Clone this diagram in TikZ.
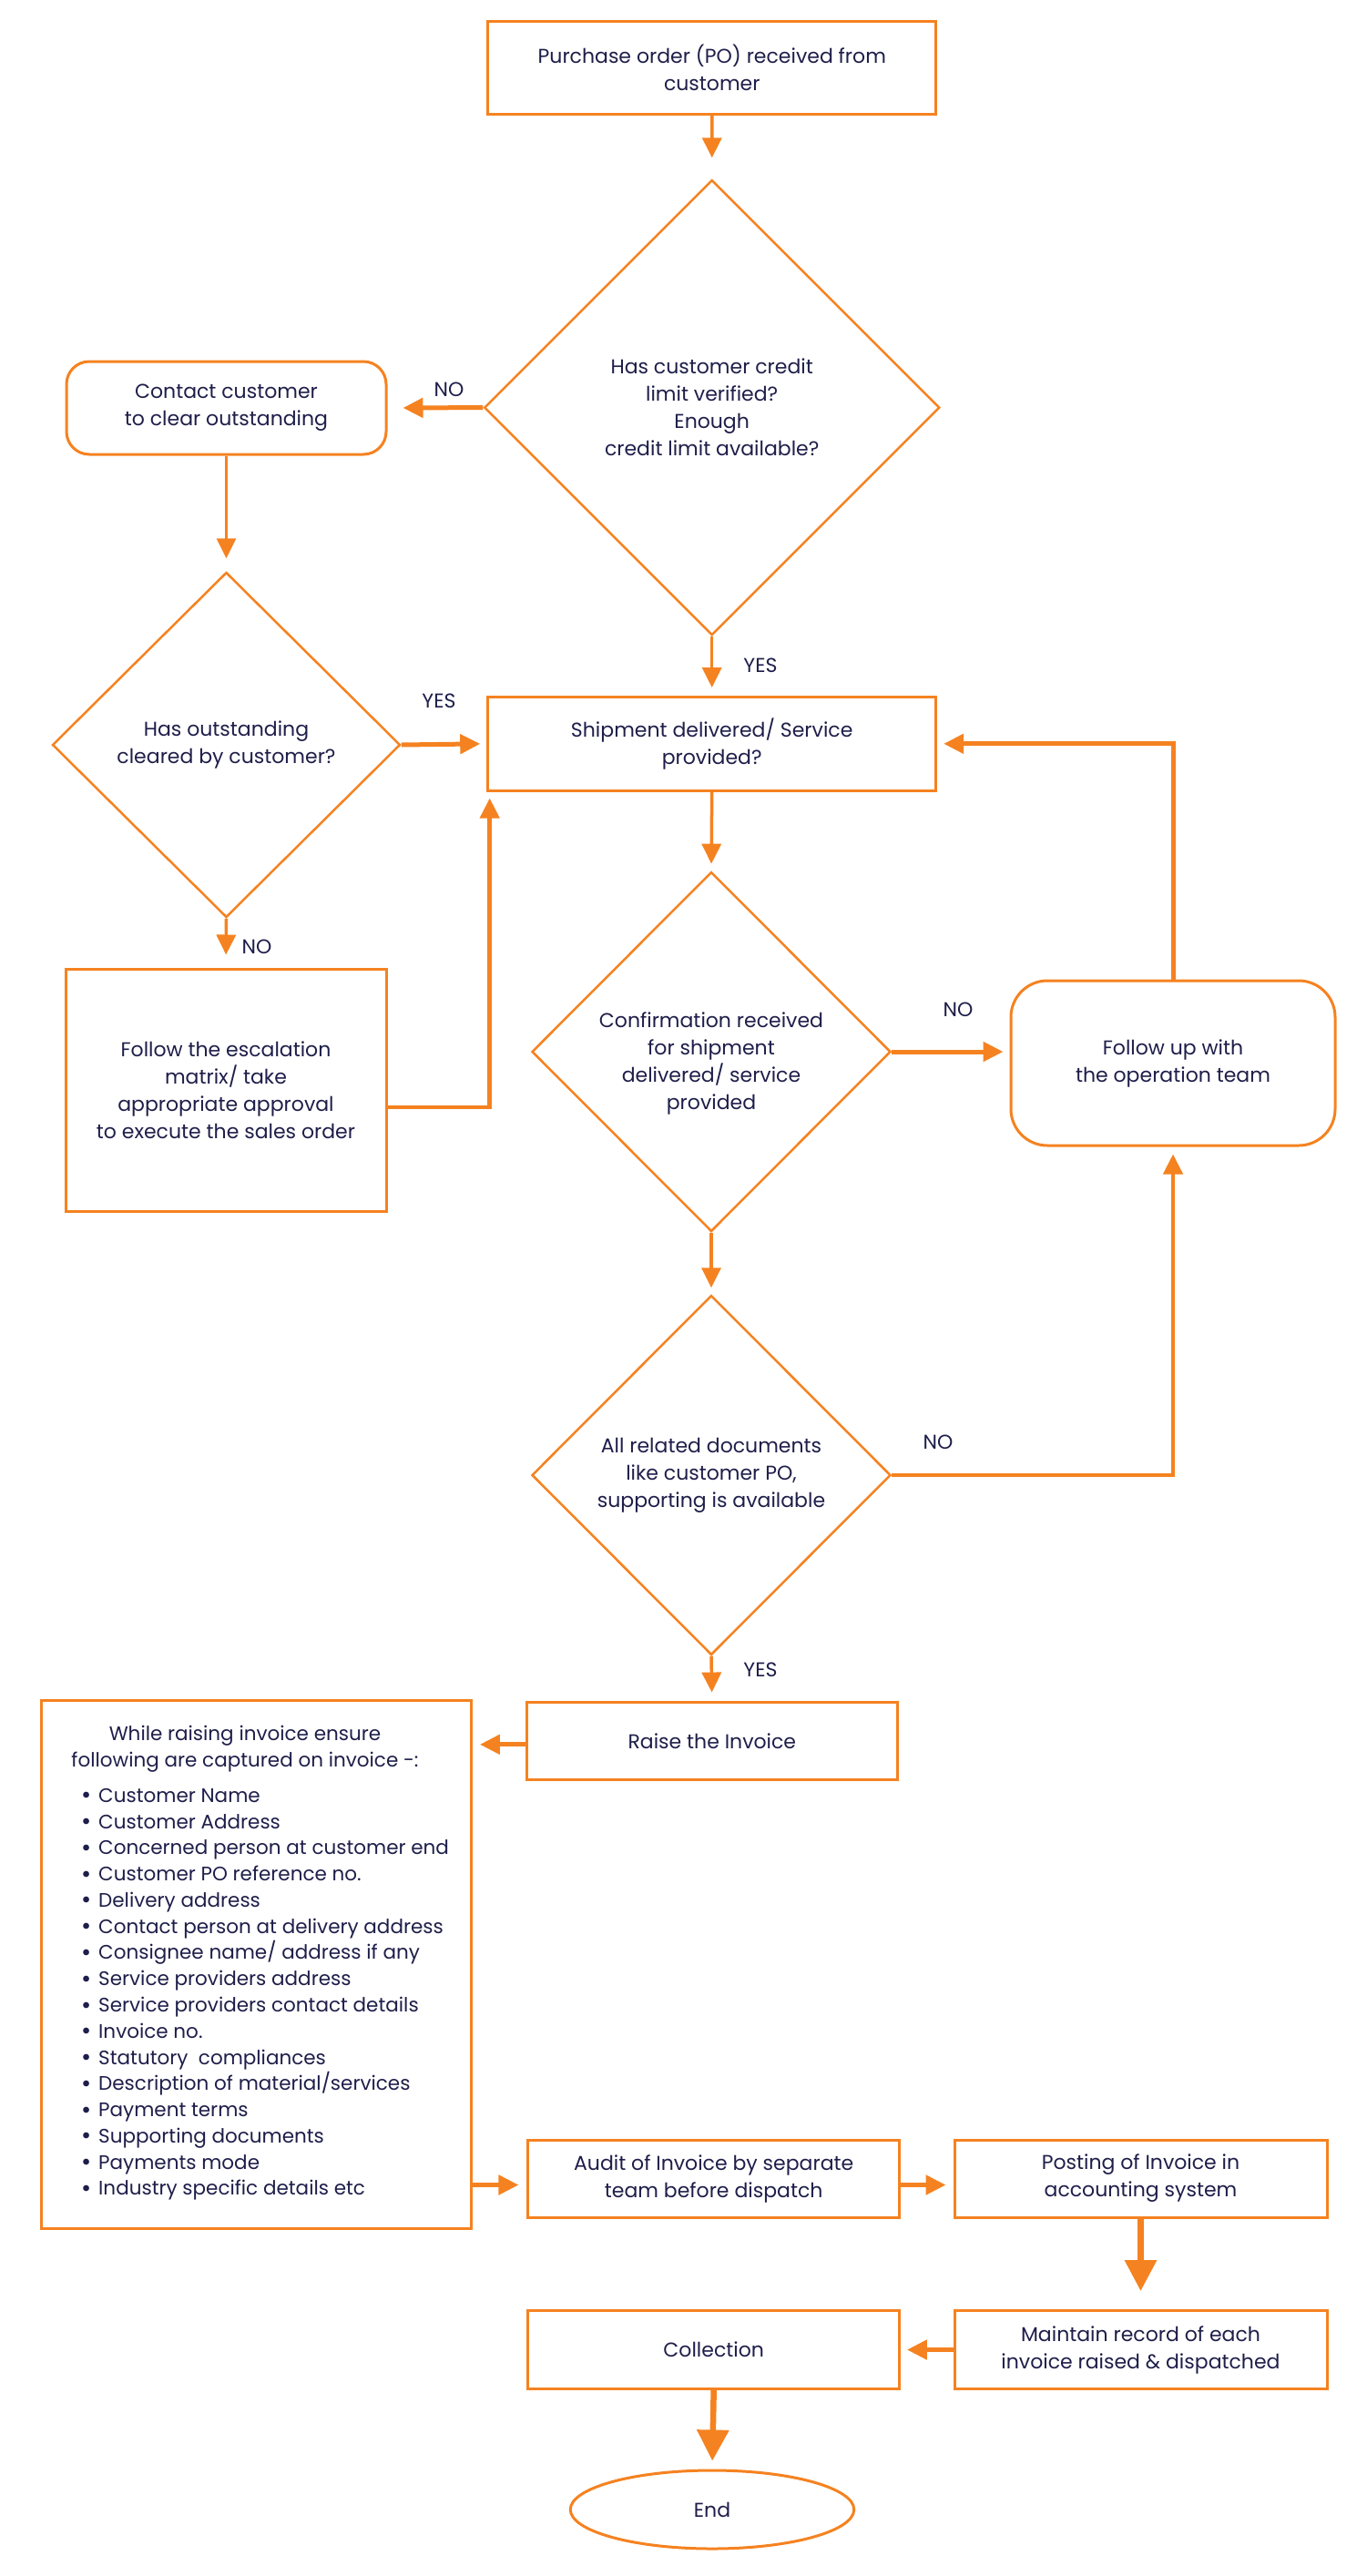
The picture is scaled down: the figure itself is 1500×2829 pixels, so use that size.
\documentclass[tikz,border=0pt]{standalone}
\usepackage{fontspec}
\setmainfont{Poppins}
\usetikzlibrary{shapes.geometric,arrows.meta,calc}
\definecolor{org}{HTML}{F58220}
\definecolor{ink}{HTML}{1E1E4A}
\newcommand{\bul}{\makebox[19pt][l]{\raisebox{-1.5pt}{\fontsize{27pt}{0pt}\selectfont •}}}
\begin{document}
\begin{tikzpicture}[x=1pt,y=-1pt,
  every node/.style={font=\fontsize{22pt}{30pt}\selectfont, text=ink, inner sep=0pt, align=center},
  box/.style={draw=org, line width=3pt, rectangle},
  dia/.style={draw=org, line width=2.5pt, diamond},
  rbox/.style={box, rounded corners=25pt},
  thinarrow/.style={draw=org, line width=3.5pt, -{Triangle[length=22pt,width=21pt]}},
  thickarrow/.style={draw=org, line width=5pt, -{Triangle[length=22pt,width=21pt]}},
  bigarrow/.style={draw=org, line width=6.5pt, -{Triangle[length=34pt,width=34pt]}},
]
\useasboundingbox (0,0) rectangle (1500,2829);

% nodes
\node[box, minimum width=492pt, minimum height=102pt] (po) at (781.8,74.3) {Purchase order (PO) received from\\customer};
\node[dia, minimum width=500pt, minimum height=500pt] (d1) at (781.7,447.6) {Has customer credit\\limit verified?\\Enough\\credit limit available?};
\node[rbox, minimum width=351pt, minimum height=102pt] (contact) at (248.5,448) {Contact customer\\to clear outstanding};
\node[dia, minimum width=382pt, minimum height=379pt] (d2) at (248.5,818) {Has outstanding\\cleared by customer?};
\node[box, minimum width=492pt, minimum height=102.5pt] (ship) at (781.7,816.8) {Shipment delivered/ Service\\provided?};
\node[box, minimum width=352pt, minimum height=266pt] (esc) at (248,1197) {Follow the escalation\\matrix/ take\\appropriate approval\\to execute the sales order};
\node[dia, minimum width=394pt, minimum height=395pt] (d3) at (781,1155) {};
\node (d3t) at (781,1168) {Confirmation received\\for shipment\\delivered/ service\\provided};
\node[box, rounded corners=40pt, minimum width=356pt, minimum height=181pt] (follow) at (1288,1167.5) {Follow up with\\the operation team};
\node[dia, minimum width=394pt, minimum height=395pt] (d4) at (781,1620) {All related documents\\like customer PO,\\supporting is available};
\node[box, minimum width=407.6pt, minimum height=85.5pt] (raise) at (781.8,1911.8) {Raise the Invoice};
\node[box, minimum width=471.5pt, minimum height=580.5pt] (list) at (281.7,2157.7) {};
\node[font=\fontsize{21.5pt}{29pt}\selectfont] (listhead) at (269,1920.5) {While raising invoice ensure\\following are captured on invoice -:};
\node[align=left, anchor=west, font=\fontsize{21.5pt}{28.76pt}\selectfont] (items) at (89,2190.3) {%
\bul Customer Name\\
\bul Customer Address\\
\bul Concerned person at customer end\\
\bul Customer PO reference no.\\
\bul Delivery address\\
\bul Contact person at delivery address\\
\bul Consignee name/ address if any\\
\bul Service providers address\\
\bul Service providers contact details\\
\bul Invoice no.\\
\bul Statutory\ \ compliances\\
\bul Description of material/services\\
\bul Payment terms\\
\bul Supporting documents\\
\bul Payments mode\\
\bul Industry specific details etc};
\node[box, minimum width=407.5pt, minimum height=85pt] (audit) at (783.7,2392.5) {Audit of Invoice by separate\\team before dispatch};
\node[box, minimum width=409pt, minimum height=85pt] (post) at (1252.5,2392.5) {Posting of Invoice in\\accounting system};
\node[box, minimum width=409pt, minimum height=86pt] (maint) at (1252.5,2580.5) {Maintain record of each\\invoice raised \& dispatched};
\node[box, minimum width=407.5pt, minimum height=86pt] (coll) at (783.7,2580.5) {Collection};
\node[draw=org, line width=3pt, ellipse, minimum width=311.5pt, minimum height=86pt] (end) at (782,2756) {End};

% labels
\node (l1) at (493,428) {NO};
\node (l2) at (835,731) {YES};
\node (l3) at (482,770) {YES};
\node (l4) at (282,1040) {NO};
\node (l5) at (1052,1109) {NO};
\node (l6) at (1030,1584) {NO};
\node (l7) at (835,1834) {YES};

% connectors
\draw[thinarrow, shorten >=23pt] (po.south) -- (d1.north);
\draw[thickarrow, shorten >=17pt] (d1.west) -- (contact.east);
\draw[thinarrow, shorten >=14pt] (contact.south) -- (d2.north);
\draw[thickarrow, shorten >=7pt] (d2.east) -- (ship.west);
\draw[thinarrow, shorten >=9pt] (d1.south) -- (ship.north);
\draw[thinarrow, shorten >=14pt] (d2.south) -- (esc.north);
\draw[draw=org, line width=4.5pt, -{Triangle[length=22pt,width=21pt]}, shorten >=7pt] ($(esc.east)+(0,19)$) -| ($(ship.south west)+(3.5,0)$);
\draw[thinarrow, shorten >=7.6pt] (ship.south) -- (d3.north);
\draw[thickarrow, shorten >=7pt] (d3.east) -- (d3.east -| follow.west);
\draw[draw=org, line width=5pt, -{Triangle[length=22pt,width=21pt]}, shorten >=7pt] (follow.north) |- (ship.east);
\draw[thinarrow, shorten >=7pt] (d3.south) -- (d4.north);
\draw[draw=org, line width=4.5pt, -{Triangle[length=22pt,width=21pt]}, shorten >=8pt] (d4.east) -| (follow.south);
\draw[thinarrow, shorten >=9pt] (d4.south) -- (raise.north);
\draw[thickarrow, shorten >=8pt] ($(raise.west)+(0,4)$) -- ($(raise.west -| list.east)+(0,4)$);
\draw[thickarrow, shorten >=9pt] ($(list.east |- audit.west)+(0,7)$) -- ($(audit.west)+(0,7)$);
\draw[thickarrow, shorten >=8pt] ($(audit.east)+(0,7)$) -- ($(post.west)+(0,7)$);
\draw[bigarrow, shorten >=20pt] (post.south) -- (maint.north);
\draw[thickarrow, shorten >=7pt] (maint.west) -- (coll.east);
\draw[bigarrow, shorten >=9pt] (coll.south) -- (end.north);
\end{tikzpicture}
\end{document}
